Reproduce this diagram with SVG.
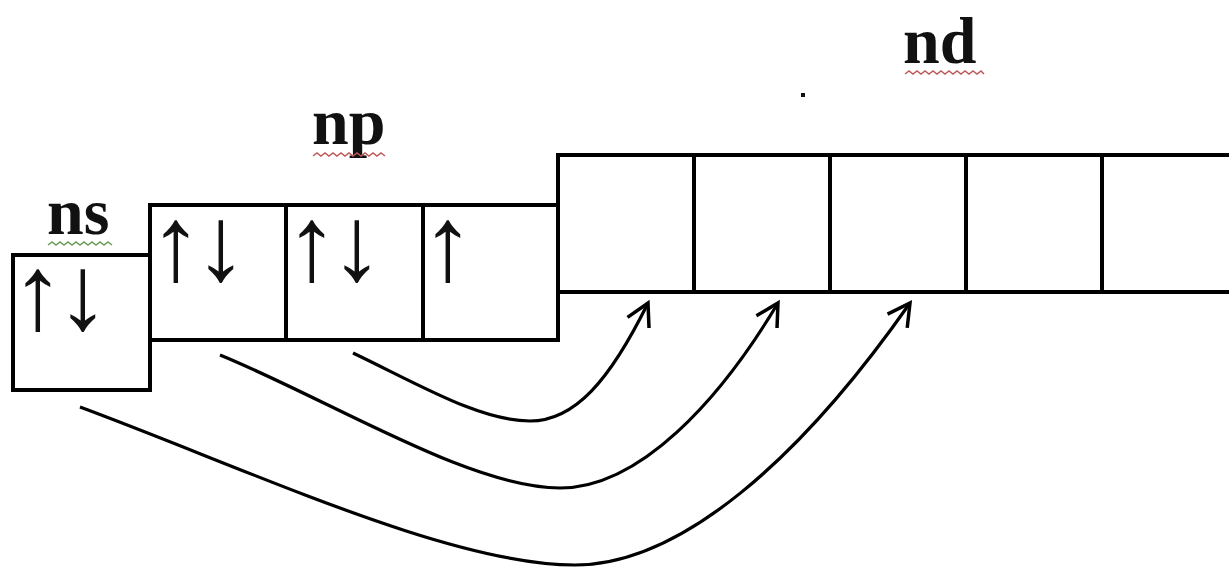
<svg xmlns="http://www.w3.org/2000/svg" width="1229" height="568" viewBox="0 0 1229 568">
  <style>
    .cell { fill: none; stroke: #000; stroke-width: 4; }
    .label { font-family: "Liberation Serif", "Times New Roman", serif; font-weight: bold; font-size: 66px; fill: #111; }
    .spin { font-family: "Liberation Serif", "Times New Roman", serif; font-size: 106px; letter-spacing: -8px; fill: #111; }
    .wavy-green { fill: none; stroke: #6a9a5a; stroke-width: 1.5; }
    .wavy-red { fill: none; stroke: #c05a5a; stroke-width: 1.5; }
    .link { fill: none; stroke: #000; stroke-width: 3.2; marker-end: url(#head); }
  </style>
  <defs>
    <marker id="head" markerUnits="userSpaceOnUse" markerWidth="40" markerHeight="40" viewBox="-30 -20 40 40" refX="0" refY="0" orient="auto">
      <path d="M-22,-12 L0,0 L-22,12" fill="none" stroke="#000" stroke-width="3.5" stroke-linejoin="miter"/>
    </marker>
  </defs>
  <rect width="1229" height="568" fill="#fff"/>

  <!-- s sublevel: one orbital -->
  <g id="ns">
    <text class="label" x="47" y="234">ns</text>
    <path class="wavy-green" d="M48,245 l4,-3 l4,3 l4,-3 l4,3 l4,-3 l4,3 l4,-3 l4,3 l4,-3 l4,3 l4,-3 l4,3 l4,-3 l4,3 l4,-3 l4,3"/>
    <rect class="cell" x="13" y="255" width="137" height="135"/>
    <text class="spin" x="11.5" y="329">↑↓</text>
  </g>

  <!-- p sublevel: three orbitals -->
  <g id="np">
    <text class="label" x="312" y="144">np</text>
    <path class="wavy-red" d="M313,156 l4,-3 l4,3 l4,-3 l4,3 l4,-3 l4,3 l4,-3 l4,3 l4,-3 l4,3 l4,-3 l4,3 l4,-3 l4,3 l4,-3 l4,3 l4,-3 l4,3"/>
    <rect class="cell" x="150" y="205" width="136" height="135"/>
    <rect class="cell" x="286" y="205" width="137" height="135"/>
    <rect class="cell" x="423" y="205" width="135" height="135"/>
    <text class="spin" x="149.5" y="280">↑↓</text>
    <text class="spin" x="285.5" y="280">↑↓</text>
    <text class="spin" x="421.5" y="280">↑</text>
  </g>

  <!-- d sublevel: five empty orbitals -->
  <g id="nd">
    <text class="label" x="903" y="63">nd</text>
    <path class="wavy-red" d="M905,74 l4,-3 l4,3 l4,-3 l4,3 l4,-3 l4,3 l4,-3 l4,3 l4,-3 l4,3 l4,-3 l4,3 l4,-3 l4,3 l4,-3 l4,3 l4,-3 l4,3 l4,-3 l3,3"/>
    <rect class="cell" x="558" y="155" width="136" height="137"/>
    <rect class="cell" x="694" y="155" width="136" height="137"/>
    <rect class="cell" x="830" y="155" width="136" height="137"/>
    <rect class="cell" x="966" y="155" width="136" height="137"/>
    <rect class="cell" x="1102" y="155" width="140" height="137"/>
    <rect x="801" y="93" width="4" height="4" fill="#111"/>
  </g>

  <!-- electron promotion paths -->
  <g id="connectors">
    <path class="link" d="M353,353 C420,385 480,421 530,421 C575,421 610,380 648,303"/>
    <path class="link" d="M220,355 C330,400 470,488 560,488 C640,488 720,400 778,303"/>
    <path class="link" d="M80,407 C250,470 450,565 575,565 C680,565 800,460 910,303"/>
  </g>
</svg>
